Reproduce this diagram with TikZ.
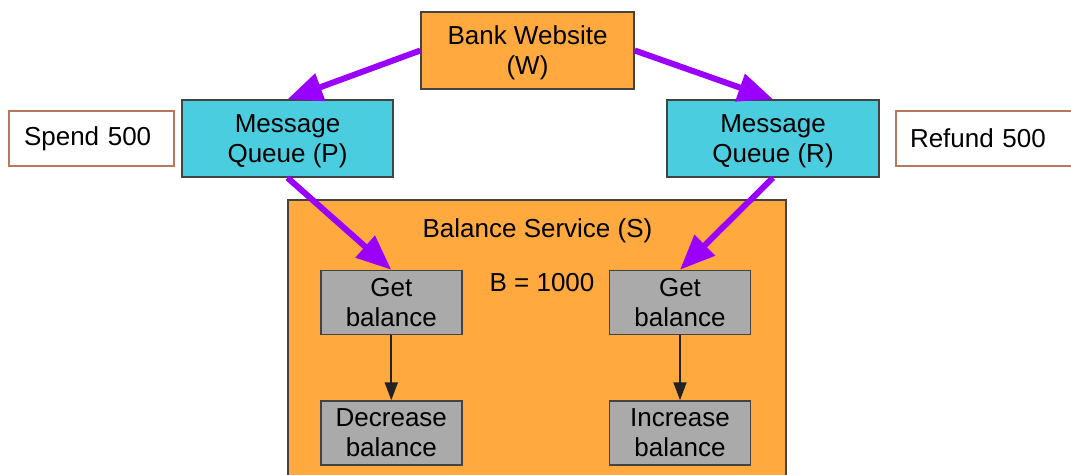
\documentclass[tikz,border=0pt]{standalone}
\usepackage{fontspec}
\setmainfont{Liberation Sans}
\usetikzlibrary{arrows.meta}

\definecolor{boxorange}{HTML}{FFA93E}
\definecolor{boxcyan}{HTML}{4BCDE0}
\definecolor{boxgray}{HTML}{AAAAAA}
\definecolor{edgegray}{HTML}{434343}
\definecolor{notebrown}{HTML}{B9785C}
\definecolor{flowpurple}{HTML}{9900FF}
\definecolor{inkblack}{HTML}{222222}

\tikzset{
  txt/.style={font=\fontsize{26}{30}\selectfont, text=black},
  box/.style={txt, draw=edgegray, line width=1.5pt, inner sep=0pt, align=center},
  websitebox/.style={box, fill=boxorange, minimum width=213pt, minimum height=77pt},
  queuebox/.style={box, fill=boxcyan, minimum width=211pt, minimum height=77pt},
  stepbox/.style={box, fill=boxgray, minimum width=141pt, minimum height=64pt},
  notebox/.style={txt, draw=notebrown, line width=1.2pt, fill=white, minimum height=55pt,
                  inner ysep=0pt, align=left},
  flow/.style={draw=flowpurple, line width=6pt,
               -{Triangle[length=35pt,width=28pt]}},
  inner/.style={draw=inkblack, line width=2pt,
               -{Triangle[length=18pt,width=13pt]}}
}

\begin{document}
\begin{tikzpicture}[x=1pt,y=-1pt]
\useasboundingbox (0,0) rectangle (1071,474);
\clip (0,0) rectangle (1071,474);

% service container, running off the bottom edge
\node[draw=edgegray, line width=1.5pt, fill=boxorange, minimum width=498pt,
      minimum height=300pt, inner sep=0pt] (S) at (537,350) {};
\node[txt, anchor=base] (Slabel) at (537.5,237) {Balance Service (S)};
\node[txt, anchor=base] (B) at (542,291) {B = 1000};

% website and queues (descenders of the last line kept out of the centring)
\node[websitebox] (W) at (527.5,50.5) {Bank Website\\\smash{(W)}};
\node[queuebox] (P) at (287.5,138.5) {Message\\\smash{Queue (P)}};
\node[queuebox, minimum width=212pt] (R) at (773,138.5) {Message\\\smash{Queue (R)}};

% side notes
\node[notebox, text width=135pt, inner xsep=15pt] (spend) at (91.5,138.5) {Spend 500};
\node[notebox, text width=166pt, inner xsep=14pt] (refund) at (993,138.5) {Refund 500};

% balance steps
\node[stepbox] (GL) at (391.3,302.5) {Get\\balance};
\node[stepbox] (GR) at (680,302.5) {Get\\balance};
\node[stepbox] (DL) at (391.3,433) {Decrease\\balance};
\node[stepbox] (IR) at (680,433) {Increase\\balance};

% message flow
\draw[flow] (W.west) -- (P.north);
\draw[flow] (W.east) -- (R.north);
\draw[flow] (P.south) -- (GL.north);
\draw[flow] (R.south) -- (GR.north);

% steps inside the service
\draw[inner] (GL.south) -- (DL.north);
\draw[inner] (GR.south) -- (IR.north);
\end{tikzpicture}
\end{document}
